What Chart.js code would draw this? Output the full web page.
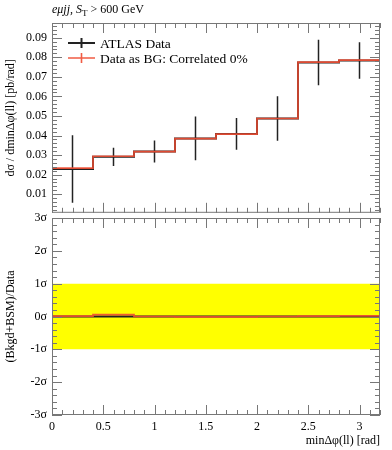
<!DOCTYPE html>
<html><head><meta charset="utf-8">
<script src="https://cdn.jsdelivr.net/npm/chart.js@4/dist/chart.umd.min.js"></script>
<style>
html,body{margin:0;padding:0;background:#fff;width:392px;height:450px;overflow:hidden;}
#wtop{position:absolute;left:0;top:0;width:392px;height:225px;}
#wbot{position:absolute;left:0;top:200px;width:392px;height:250px;}
</style></head><body>
<div id="wtop"><canvas id="ctop"></canvas></div>
<div id="wbot"><canvas id="cbot"></canvas></div>
<script>
// ---- data ----
const binEdges = [0, 0.4, 0.8, 1.2, 1.6, 2.0, 2.4, 2.8, 3.2];
const dataValues = [0.0229, 0.0291, 0.0318, 0.0385, 0.0408, 0.0487, 0.0773, 0.0783];
const dataErrors = [0.0172, 0.0047, 0.0056, 0.0112, 0.0081, 0.0114, 0.0116, 0.0093];
const predValues = [0.0233, 0.0294, 0.0318, 0.0384, 0.0407, 0.0487, 0.0775, 0.0785];
const ratioData = [0, 0, 0, 0, 0, 0, 0, 0];
const ratioPred = [0.01, 0.06, 0.0, -0.01, -0.01, 0.0, 0.01, 0.02];
const bandHigh = [1, 1];
const bandLow = [-1, -1];
const xTickValues = [0, 0.5, 1, 1.5, 2, 2.5, 3];
const xTickLabels = ['0', '0.5', '1', '1.5', '2', '2.5', '3'];
const topTickValues = [0.01, 0.02, 0.03, 0.04, 0.05, 0.06, 0.07, 0.08, 0.09];
const topTickLabels = ['0.01', '0.02', '0.03', '0.04', '0.05', '0.06', '0.07', '0.08', '0.09'];
const botTickValues = [-3, -2, -1, 0, 1, 2, 3];
const botTickLabels = ['-3σ', '-2σ', '-1σ', '0σ', '1σ', '2σ', '3σ'];
const legendLabels = ['ATLAS Data', 'Data as BG: Correlated 0%'];

const FONT = "'Liberation Serif', 'DejaVu Serif', serif";
const BLACK = '#222222';
const RED = 'rgba(240,78,52,0.92)';
const FRAME = '#777777';

function stepData(vals) {
  return binEdges.map((x, i) => ({x: x, y: vals[Math.min(i, vals.length - 1)]}));
}
function errData(vals, errs) {
  const out = [];
  vals.forEach((v, i) => {
    const xc = (binEdges[i] + binEdges[i + 1]) / 2;
    out.push({x: xc, y: v - errs[i]});
    out.push({x: xc, y: v + errs[i]});
    out.push({x: xc, y: null});
  });
  return out;
}
function setTicks(values) {
  return function(scale) { scale.ticks = values.map(v => ({value: v})); };
}
function labelFrom(values, labels) {
  return function(val) { const i = values.findIndex(v => Math.abs(v - val) < 1e-9); return i >= 0 ? labels[i] : ''; };
}

const frameTicks = {
  id: 'frameTicks',
  afterDatasetsDraw(chart, args, opts) {
    const {ctx, chartArea: a} = chart;
    const xs = chart.scales.x, ys = chart.scales.y;
    ctx.save();
    ctx.strokeStyle = FRAME;
    ctx.lineWidth = 1;
    ctx.strokeRect(a.left + 0.5, a.top + 0.5, a.right - a.left - 1, a.bottom - a.top - 1);
    ctx.beginPath();
    const xmin = xs.min, xmax = xs.max;
    for (let k = Math.ceil(xmin / opts.xMinor - 1e-9); k * opts.xMinor <= xmax + 1e-9; k++) {
      const v = k * opts.xMinor;
      const major = Math.abs(v / opts.xMajor - Math.round(v / opts.xMajor)) < 1e-6;
      const len = major ? 10 : 5;
      const px = Math.round(xs.getPixelForValue(v)) + 0.5;
      ctx.moveTo(px, a.top); ctx.lineTo(px, a.top + len);
      ctx.moveTo(px, a.bottom); ctx.lineTo(px, a.bottom - len);
    }
    const ymin = ys.min, ymax = ys.max;
    for (let k = Math.ceil(ymin / opts.yMinor - 1e-9); k * opts.yMinor <= ymax + 1e-9; k++) {
      const v = k * opts.yMinor;
      const major = Math.abs(v / opts.yMajor - Math.round(v / opts.yMajor)) < 1e-6;
      const len = major ? 10 : 5;
      const py = Math.round(ys.getPixelForValue(v)) + 0.5;
      ctx.moveTo(a.left, py); ctx.lineTo(a.left + len, py);
      ctx.moveTo(a.right, py); ctx.lineTo(a.right - len, py);
    }
    ctx.stroke();
    ctx.restore();
  }
};

const topDecor = {
  id: 'topDecor',
  afterDraw(chart) {
    const ctx = chart.ctx;
    ctx.save();
    // title
    let x = 52; const yb = 13;
    ctx.fillStyle = '#000';
    ctx.textBaseline = 'alphabetic';
    ctx.font = 'italic 12px ' + FONT;
    ctx.fillText('eμjj, S', x, yb); x += ctx.measureText('eμjj, S').width;
    ctx.font = '9px ' + FONT;
    ctx.fillText('T', x, yb + 3); x += ctx.measureText('T').width;
    ctx.font = '12px ' + FONT;
    ctx.fillText(' > 600 GeV', x, yb);
    // legend
    const items = [{c: BLACK, y: 43, w: 2}, {c: RED, y: 58, w: 1.6}];
    items.forEach((it, i) => {
      ctx.strokeStyle = it.c; ctx.lineWidth = it.w;
      ctx.beginPath();
      ctx.moveTo(68, it.y); ctx.lineTo(95, it.y);
      ctx.moveTo(81.5, it.y - 5); ctx.lineTo(81.5, it.y + 5);
      ctx.stroke();
      ctx.fillStyle = '#000';
      ctx.font = '13.5px ' + FONT;
      ctx.textBaseline = 'middle';
      ctx.fillText(legendLabels[i], 100, it.y + 1);
    });
    ctx.restore();
  }
};

const yAfterFit = function(scale) { scale.width = 52; };

new Chart(document.getElementById('ctop'), {
  type: 'line',
  data: {
    datasets: [
      {order: 3, data: stepData(dataValues), borderColor: BLACK, borderWidth: 2, stepped: 'before', pointRadius: 0, fill: false},
      {order: 2, data: errData(dataValues, dataErrors), borderColor: BLACK, borderWidth: 1.5, pointRadius: 0, spanGaps: false, fill: false},
      {order: 1, data: stepData(predValues), borderColor: RED, borderWidth: 1.7, stepped: 'before', pointRadius: 0, fill: false}
    ]
  },
  options: {
    responsive: true, maintainAspectRatio: false, animation: false,
    layout: {padding: {left: 0, right: 12, top: 23, bottom: 7}},
    plugins: {legend: {display: false}, tooltip: {enabled: false},
      frameTicks: {xMinor: 0.1, xMajor: 0.5, yMinor: 0.002, yMajor: 0.01}},
    scales: {
      x: {type: 'linear', display: false, min: 0, max: 3.2},
      y: {type: 'linear', min: 0.0005, max: 0.0975,
        afterFit: yAfterFit, afterBuildTicks: setTicks(topTickValues),
        grid: {display: false, drawTicks: false}, border: {display: false},
        ticks: {padding: 5, color: '#000', font: {family: FONT, size: 12}, callback: labelFrom(topTickValues, topTickLabels)},
        title: {display: true, text: 'dσ / dminΔφ(ll) [pb/rad]', color: '#000', font: {family: FONT, size: 12}, padding: {top: 4, bottom: 0}}
      }
    }
  },
  plugins: [frameTicks, topDecor]
});

new Chart(document.getElementById('cbot'), {
  type: 'line',
  data: {
    datasets: [
      {order: 10, data: [{x: binEdges[0], y: bandHigh[0]}, {x: binEdges[binEdges.length - 1], y: bandHigh[1]}], borderWidth: 0, borderColor: 'rgba(0,0,0,0)', backgroundColor: '#ffff00', pointRadius: 0, fill: '+1'},
      {order: 11, data: [{x: binEdges[0], y: bandLow[0]}, {x: binEdges[binEdges.length - 1], y: bandLow[1]}], borderWidth: 0, borderColor: 'rgba(0,0,0,0)', pointRadius: 0, fill: false},
      {order: 3, data: stepData(ratioData), borderColor: BLACK, borderWidth: 2, stepped: 'before', pointRadius: 0, fill: false},
      {order: 1, data: stepData(ratioPred), borderColor: RED, borderWidth: 1.7, stepped: 'before', pointRadius: 0, fill: false}
    ]
  },
  options: {
    responsive: true, maintainAspectRatio: false, animation: false,
    layout: {padding: {left: 0, right: 12, top: 18, bottom: 0}},
    plugins: {legend: {display: false}, tooltip: {enabled: false}, filler: {propagate: false},
      frameTicks: {xMinor: 0.1, xMajor: 0.5, yMinor: 0.2, yMajor: 1}},
    scales: {
      x: {type: 'linear', min: 0, max: 3.2,
        afterFit: function(s) { s.height = 35; }, afterBuildTicks: setTicks(xTickValues),
        grid: {display: false, drawTicks: false}, border: {display: false},
        ticks: {padding: 5, color: '#000', maxRotation: 0, autoSkip: false, font: {family: FONT, size: 12}, callback: labelFrom(xTickValues, xTickLabels)},
        title: {display: true, text: 'minΔφ(ll) [rad]', align: 'end', color: '#000', font: {family: FONT, size: 12}, padding: {top: 0, bottom: 2}}
      },
      y: {type: 'linear', min: -3, max: 3,
        afterFit: yAfterFit, afterBuildTicks: setTicks(botTickValues),
        grid: {display: false, drawTicks: false}, border: {display: false},
        ticks: {padding: 5, color: '#000', font: {family: FONT, size: 12}, callback: labelFrom(botTickValues, botTickLabels)},
        title: {display: true, text: '(Bkgd+BSM)/Data', color: '#000', font: {family: FONT, size: 12}, padding: {top: 4, bottom: 0}}
      }
    }
  },
  plugins: [frameTicks]
});
</script>
</body></html>
